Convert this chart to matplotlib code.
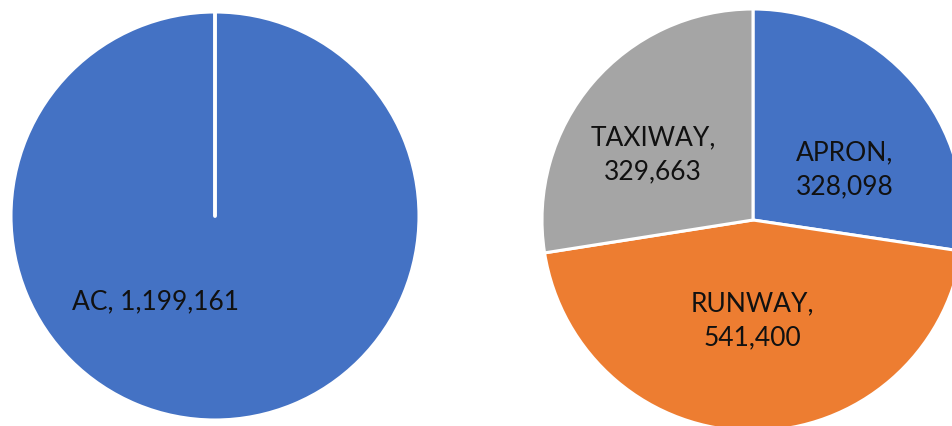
import numpy as np
import matplotlib
matplotlib.use("Agg")
import matplotlib.pyplot as plt

# Left pie: single category
left_labels = ["AC"]
left_values = [1199161]

# Right pie: breakdown by area (clockwise from 12 o'clock)
right_labels = ["APRON", "RUNWAY", "TAXIWAY"]
right_values = [328098, 541400, 329663]

blue = "#4472C4"
orange = "#ED7D31"
grey = "#A5A5A5"

plt.rcParams["font.family"] = ["Lato", "DejaVu Sans"]

W, H = 952, 426
fig = plt.figure(figsize=(W / 100, H / 100), dpi=100)


def axes_for(cx, cy, r):
    # pixel centre / radius -> figure fraction box
    return fig.add_axes([(cx - r) / W, (H - cy - r) / H, 2 * r / W, 2 * r / H])


# ---- left pie
ax1 = axes_for(215, 216, 204)
ax1.pie(left_values, colors=[blue], startangle=90, counterclock=False,
        wedgeprops=dict(edgecolor="white", linewidth=2.2))
# slice boundary at the start angle (matplotlib draws none for a full circle)
a = np.deg2rad(90)
ax1.plot([0, np.cos(a)], [0, np.sin(a)], color="white", lw=2.8,
         solid_capstyle="round")
ax1.set_xlim(-1, 1)
ax1.set_ylim(-1, 1)
ax1.text(-0.29, -0.42, "%s, %s" % (left_labels[0], format(left_values[0], ",")),
         ha="center", va="center", fontsize=19, color="#111111")

# ---- right pie
ax2 = axes_for(753, 220, 211)
ax2.pie(right_values, colors=[blue, orange, grey], startangle=90,
        counterclock=False,
        wedgeprops=dict(edgecolor="white", linewidth=2.2))
ax2.set_xlim(-1, 1)
ax2.set_ylim(-1, 1)
label_pos = [(0.436, 0.237), (-0.005, -0.479), (-0.474, 0.308)]
for (x, y), lab, val in zip(label_pos, right_labels, right_values):
    ax2.text(x, y, "%s,\n%s" % (lab, format(val, ",")), ha="center",
             va="center", fontsize=19, color="#111111", linespacing=1.45)

fig.savefig("out.png", dpi=100)
